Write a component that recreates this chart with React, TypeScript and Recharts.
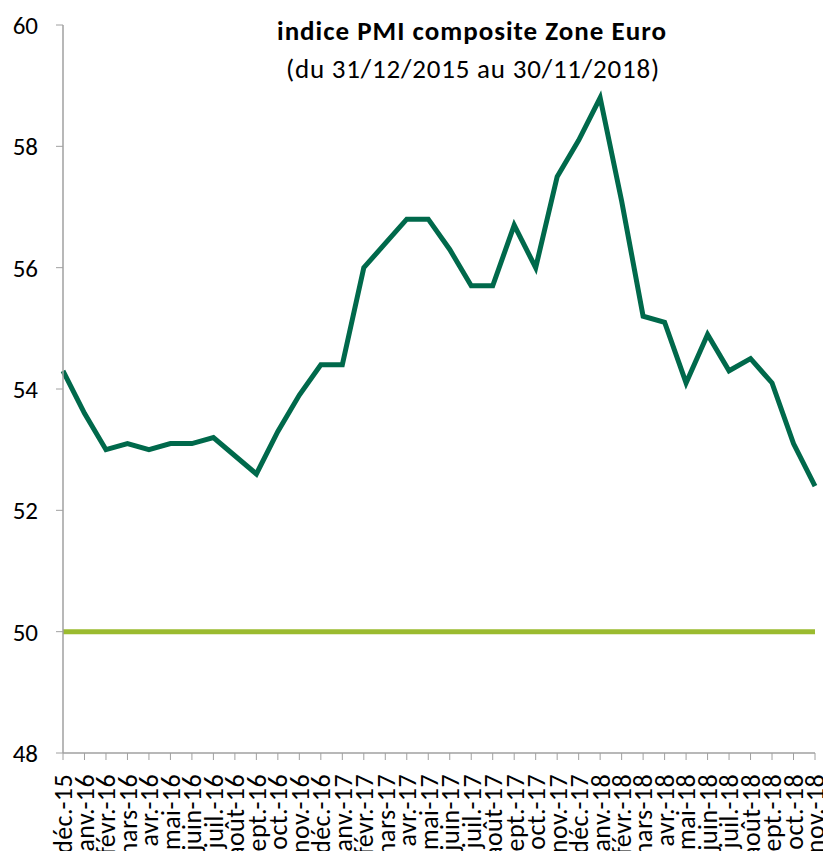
import React from "react";
import { LineChart, Line, XAxis, YAxis, ReferenceLine } from "recharts";

const months = [
  "déc.-15", "janv.-16", "févr.-16", "mars-16", "avr.-16", "mai-16", "juin-16", "juil.-16", "août-16", "sept.-16", "oct.-16", "nov.-16",
  "déc.-16", "janv.-17", "févr.-17", "mars-17", "avr.-17", "mai-17", "juin-17", "juil.-17", "août-17", "sept.-17", "oct.-17", "nov.-17",
  "déc.-17", "janv.-18", "févr.-18", "mars-18", "avr.-18", "mai-18", "juin-18", "juil.-18", "août-18", "sept.-18", "oct.-18", "nov.-18",
];
const pmiValues = [
  54.3, 53.6, 53.0, 53.1, 53.0, 53.1, 53.1, 53.2, 52.9, 52.6, 53.3, 53.9,
  54.4, 54.4, 56.0, 56.4, 56.8, 56.8, 56.3, 55.7, 55.7, 56.7, 56.0, 57.5,
  58.1, 58.8, 57.1, 55.2, 55.1, 54.1, 54.9, 54.3, 54.5, 54.1, 53.1, 52.4,
];
const yTicks = [48, 50, 52, 54, 56, 58, 60];
const threshold = 50;
const titleText = "indice PMI composite Zone Euro";
const subtitleText = "(du 31/12/2015 au 30/11/2018)";

const data = months.map((m, i) => ({ month: m, pmi: pmiValues[i] }));

const FONT = "Carlito, Calibri, Lato, sans-serif";

const XTick = (props: any) => {
  const { x, y, payload } = props;
  return (
    <g transform={`translate(${x},${y})`}>
      <text
        transform="rotate(-90)"
        x={-12}
        y={0}
        dy="0.36em"
        textAnchor="end"
        fontFamily={FONT}
        fontSize={26}
        letterSpacing={0.4}
        fill="#000"
      >
        {payload.value}
      </text>
    </g>
  );
};

export default function App() {
  return (
    <div style={{ position: "absolute", left: 0, top: 0, width: 823, height: 851, background: "#fff", overflow: "hidden" }}>
      <LineChart
        width={823}
        height={851}
        data={data}
        margin={{ top: 25, right: 8, bottom: 0, left: 0 }}
      >
        <XAxis
          dataKey="month"
          interval={0}
          height={98}
          tick={<XTick />}
          tickLine={{ stroke: "#A0A0A0" }}
          axisLine={{ stroke: "#A0A0A0", strokeWidth: 1.5 }}
          tickSize={7}
        />
        <YAxis
          domain={[48, 60]}
          ticks={yTicks}
          width={63}
          interval={0}
          tickSize={7}
          tickMargin={18}
          tickLine={{ stroke: "#A0A0A0" }}
          axisLine={{ stroke: "#A0A0A0", strokeWidth: 1.5 }}
          tick={{ fontFamily: FONT, fontSize: 25, fill: "#000" }}
        />
        <ReferenceLine y={threshold} stroke="#9BBB2F" strokeWidth={5} />
        <Line
          type="linear"
          dataKey="pmi"
          stroke="#00694B"
          strokeWidth={5}
          dot={false}
          isAnimationActive={false}
        />
      </LineChart>
      <svg
        width={823}
        height={100}
        style={{ position: "absolute", left: 0, top: 0, pointerEvents: "none" }}
      >
        <text
          x={472}
          y={40}
          textAnchor="middle"
          fontFamily={FONT}
          fontSize={27}
          fontWeight="bold"
          letterSpacing={1}
          fill="#000"
        >
          {titleText}
        </text>
        <text
          x={473}
          y={78}
          textAnchor="middle"
          fontFamily={FONT}
          fontSize={27}
          letterSpacing={0.8}
          fill="#000"
        >
          {subtitleText}
        </text>
      </svg>
    </div>
  );
}
